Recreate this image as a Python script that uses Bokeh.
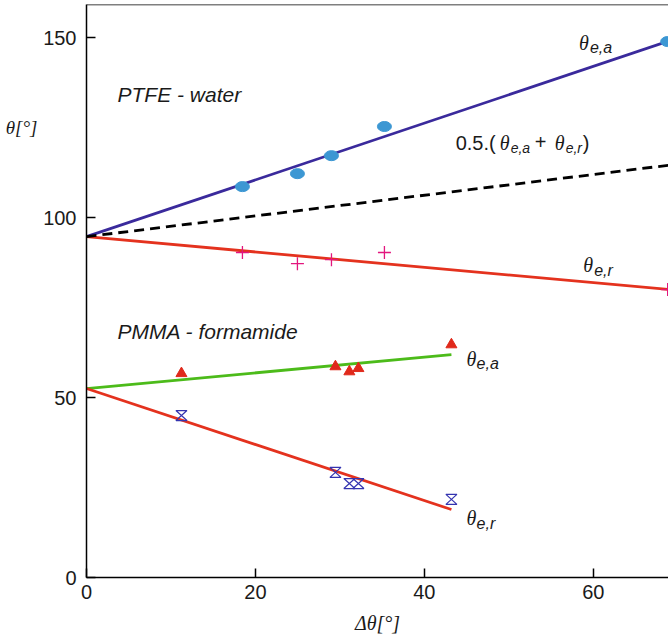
from bokeh.plotting import figure
from bokeh.models import Label, Span, FixedTicker, Range1d, LinearAxis
from bokeh.embed import file_html
from bokeh.resources import INLINE

# ---------------- data ----------------
x_ticks = [0, 20, 40, 60]
y_ticks = [0, 50, 100, 150]

# PTFE - water
ptfe_dtheta = [18.46, 24.97, 29.0, 35.27, 68.8]
ptfe_adv = [108.6, 112.2, 117.2, 125.3, 148.9]
ptfe_rec = [90.3, 87.2, 88.3, 90.3, 80.0]
ptfe_fit_x = [0, 70]
ptfe_adv_fit = [94.7, 149.9]
ptfe_rec_fit = [94.7, 79.8]
ptfe_mean_fit = [94.7, 114.85]

# PMMA - formamide
pmma_dtheta = [11.24, 29.47, 31.12, 32.19, 43.2]
pmma_adv = [56.7, 58.6, 57.2, 58.1, 64.7]
pmma_rec = [45.0, 29.2, 26.1, 26.1, 21.7]
pmma_fit_x = [0, 43.2]
pmma_adv_fit = [52.5, 61.9]
pmma_rec_fit = [52.5, 18.9]

y_title_at = 125  # height at which the y title sits

# ---------------- figure ----------------
W, H = 668, 638
X_END, Y_END = 68.9, 159.2
BL, BR, BT, BB = 86, 0, 4, 61
FRAME_W, FRAME_H = W - BL - BR, H - BT - BB

p = figure(width=W, height=H, output_backend="svg", toolbar_location=None,
           x_range=Range1d(0, X_END), y_range=Range1d(0, Y_END),
           min_border_left=BL, min_border_right=BR,
           min_border_top=BT, min_border_bottom=BB)
p.grid.visible = False
p.outline_line_color = None
p.background_fill_color = "white"
p.border_fill_color = "white"

TXT = "#1a1a1a"
SANS = "Liberation Sans"
SERIF = "Liberation Serif"

for ax, ticks in ((p.xaxis, x_ticks), (p.yaxis, y_ticks)):
    ax.ticker = FixedTicker(ticks=ticks)
    ax.major_tick_in = 9
    ax.major_tick_out = 0
    ax.minor_tick_line_color = None
    ax.axis_line_width = 1.5
    ax.axis_line_color = "black"
    ax.major_tick_line_width = 1.5
    ax.major_tick_line_color = "black"
    ax.major_label_text_font = SANS
    ax.major_label_text_font_size = "20px"
    ax.major_label_text_color = TXT
p.xaxis.major_label_standoff = 7
p.yaxis.major_label_standoff = 10

# x title
p.xaxis.axis_label = "Δθ[°]"
p.xaxis.axis_label_text_font = SERIF
p.xaxis.axis_label_text_font_style = "italic"
p.xaxis.axis_label_text_font_size = "20px"
p.xaxis.axis_label_text_color = TXT
p.xaxis.axis_label_standoff = 10

# y title: horizontal, placed as the single label of an extra left axis
ytitle = LinearAxis(ticker=FixedTicker(ticks=[y_title_at]),
                    major_label_overrides={y_title_at: "θ[°]"},
                    axis_line_color=None, major_tick_line_color=None,
                    minor_tick_line_color=None, major_tick_in=0, major_tick_out=0,
                    major_label_standoff=3,
                    major_label_text_font=SERIF, major_label_text_font_style="italic",
                    major_label_text_font_size="19px", major_label_text_color=TXT)
p.add_layout(ytitle, "left")

# top border
p.add_layout(Span(location=Y_END, dimension="width", line_color="black", line_width=1.5))

# ---------------- PTFE ----------------
BLUE_LINE = "#3a2a9c"
RED_LINE = "#e4321e"
LW = 2.8
p.line(ptfe_fit_x, ptfe_adv_fit, line_color=BLUE_LINE, line_width=LW)
p.line(ptfe_fit_x, ptfe_rec_fit, line_color=RED_LINE, line_width=LW)
p.line(ptfe_fit_x, ptfe_mean_fit, line_color="black", line_width=LW, line_dash="10 6")
p.ellipse(ptfe_dtheta, ptfe_adv, width=14, height=10, width_units="screen",
          height_units="screen", fill_color="#3c97d3", line_color="#3c97d3")
p.scatter(ptfe_dtheta, ptfe_rec, marker="cross", size=13, line_color="#e3167e",
          line_width=1.3)

# ---------------- PMMA ----------------
p.line(pmma_fit_x, pmma_adv_fit, line_color="#4cbb1a", line_width=LW)
p.line(pmma_fit_x, pmma_rec_fit, line_color=RED_LINE, line_width=LW)
p.scatter(pmma_dtheta, pmma_adv, marker="triangle", size=11,
          fill_color="#e0291b", line_color="#e0291b")

# hourglass markers (built around each data point, size in screen pixels)
dx_px = X_END / FRAME_W
dy_px = Y_END / FRAME_H
hw, hh = 5.5 * dx_px, 5.0 * dy_px
hx, hy = [], []
for xv, yv in zip(pmma_dtheta, pmma_rec):
    hx.append([xv - hw, xv + hw, xv - hw, xv + hw])
    hy.append([yv + hh, yv + hh, yv - hh, yv - hh])
p.patches(hx, hy, fill_color=None, line_color="#3434b0", line_width=1.2)


# ---------------- labels ----------------
def lab(x, y, text, font=SANS, size=19, style="normal", xo=0, yo=0):
    p.add_layout(Label(x=x, y=y, text=text, x_offset=xo, y_offset=yo,
                       text_font=font, text_font_size=f"{size}px",
                       text_font_style=style, text_color=TXT,
                       text_baseline="alphabetic", text_align="left"))


def theta_sub(x, y, sub, xo=0, yo=0, gap=11, sub_size=16):
    lab(x, y, "θ", SERIF, 20, "italic", xo=xo, yo=yo)
    lab(x, y, sub, SANS, sub_size, "italic", xo=xo + gap, yo=yo - 5)


lab(3.67, 134.2, "PTFE - water", SANS, 21, "italic")
lab(3.67, 68.3, "PMMA - formamide", SANS, 21, "italic")

theta_sub(58.3, 148.6, "e,a")
theta_sub(58.8, 86.7, "e,r")
theta_sub(45.0, 60.8, "e,a", gap=10)
theta_sub(45.0, 16.4, "e,r", gap=10)

# 0.5.(θe,a + θe,r)
mx, my = 43.7, 120.6
lab(mx, my, "0.5.(", SANS, 20)
theta_sub(mx, my, "e,a", xo=44, sub_size=14)
lab(mx, my, "+", SANS, 20, xo=79, yo=1)
theta_sub(mx, my, "e,r", xo=99, sub_size=14)
lab(mx, my, ")", SANS, 20, xo=127)

open("out.html", "w").write(file_html(p, INLINE))
